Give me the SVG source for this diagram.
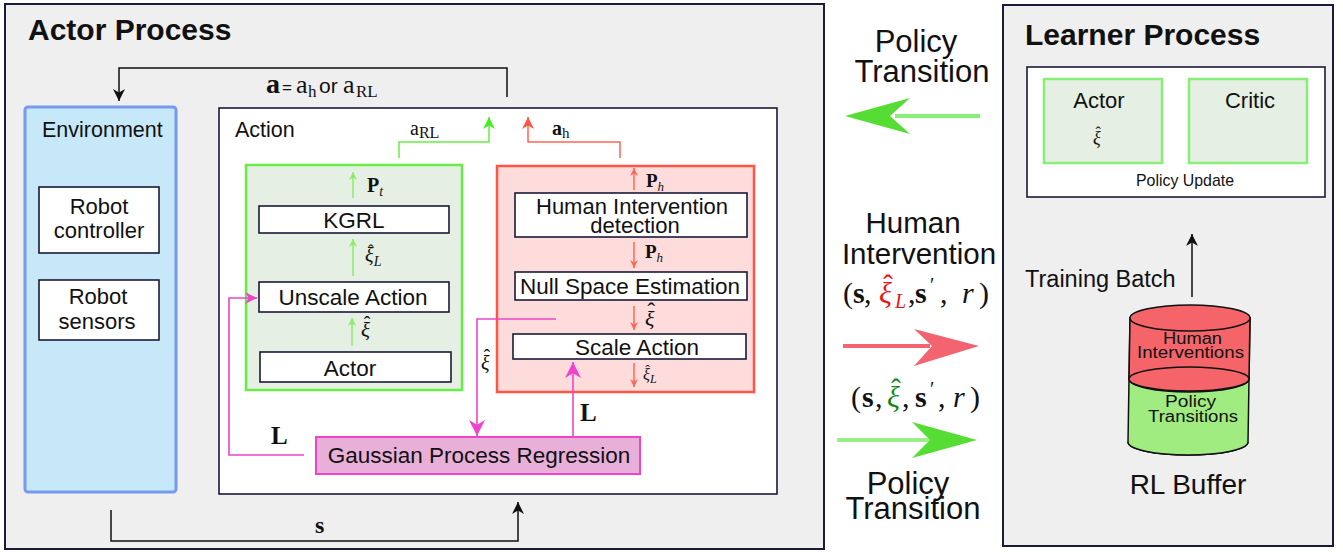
<svg xmlns="http://www.w3.org/2000/svg" width="1343" height="552" viewBox="0 0 1343 552">
<style>
.sans{font-family:"Liberation Sans",Arial,sans-serif;fill:#111}
.serif{font-family:"Liberation Serif","Times New Roman",serif;fill:#111}
.it{font-style:italic}
.bf{font-weight:bold}
.box{fill:#fff;stroke:#1a1a3a;stroke-width:1.6}
.proc{fill:#efefef;stroke:#1a1a3a;stroke-width:2}
.lg{fill:none;stroke:#88ee66;stroke-width:1.5}
.lr{fill:none;stroke:#ff6655;stroke-width:1.5}
.lm{fill:none;stroke:#ee44cc;stroke-width:1.6}
.lk{fill:none;stroke:#111;stroke-width:1.5}
</style>
<defs>
<marker id="ag" viewBox="0 0 10 10" refX="10" refY="5" markerWidth="10" markerHeight="8" markerUnits="userSpaceOnUse" orient="auto"><path d="M0,0 L10,5 L0,10 L3,5 z" fill="#88ee66"/></marker>
<marker id="ar" viewBox="0 0 10 10" refX="10" refY="5" markerWidth="10" markerHeight="8" markerUnits="userSpaceOnUse" orient="auto"><path d="M0,0 L10,5 L0,10 L3,5 z" fill="#ff6655"/></marker>
<marker id="agB" viewBox="0 0 10 10" refX="10" refY="5" markerWidth="18" markerHeight="12" markerUnits="userSpaceOnUse" orient="auto"><path d="M0,0 L10,5 L0,10 L3,5 z" fill="#44ee22"/></marker>
<marker id="arB" viewBox="0 0 10 10" refX="10" refY="5" markerWidth="18" markerHeight="12" markerUnits="userSpaceOnUse" orient="auto"><path d="M0,0 L10,5 L0,10 L3,5 z" fill="#ff5544"/></marker>
<marker id="am" viewBox="0 0 10 10" refX="10" refY="5" markerWidth="30" markerHeight="16" markerUnits="userSpaceOnUse" orient="auto"><path d="M0,0 L10,5 L0,10 L3,5 z" fill="#ee44cc"/></marker>
<marker id="amS" viewBox="0 0 10 10" refX="10" refY="5" markerWidth="18" markerHeight="12" markerUnits="userSpaceOnUse" orient="auto"><path d="M0,0 L10,5 L0,10 L3,5 z" fill="#ee44cc"/></marker>
<marker id="ak" viewBox="0 0 10 10" refX="10" refY="5" markerWidth="20" markerHeight="12" markerUnits="userSpaceOnUse" orient="auto"><path d="M0,0 L10,5 L0,10 L3,5 z" fill="#111"/></marker>
</defs>
<rect width="1343" height="552" fill="#fff"/>

<g id="actor-process">
<rect class="proc" x="5" y="4" width="819" height="545"/>
<text class="sans bf" x="28" y="40" font-size="30">Actor Process</text>
</g>

<g id="learner-process">
<rect class="proc" x="1003" y="5" width="330" height="541"/>
<text class="sans bf" x="1025" y="45" font-size="30">Learner Process</text>
</g>

<g id="environment">
<rect x="25" y="107" width="151" height="385" rx="3" fill="#c6e8f8" stroke="#7799ee" stroke-width="3"/>
<text class="sans" x="42" y="137" font-size="21.5">Environment</text>
</g>
<g id="robot-controller">
<rect class="box" x="39" y="187" width="120" height="66"/>
<text class="sans" x="99" y="214" font-size="22" text-anchor="middle">Robot</text>
<text class="sans" x="99" y="238" font-size="22" text-anchor="middle">controller</text>
</g>
<g id="robot-sensors">
<rect class="box" x="39" y="280" width="120" height="60"/>
<text class="sans" x="98" y="304" font-size="22" text-anchor="middle">Robot</text>
<text class="sans" x="97" y="329" font-size="22" text-anchor="middle">sensors</text>
</g>

<g id="action">
<rect class="box" x="219" y="108" width="558" height="386" stroke-width="2"/>
<text class="sans" x="235" y="137" font-size="21.5">Action</text>
</g>

<g id="rl-branch">
<rect x="246" y="165" width="216" height="225" fill="#e6efe3" stroke="#66ee44" stroke-width="2.5"/>
</g>
<g id="kgrl">
<rect class="box" x="259" y="206" width="190" height="27"/>
<text class="sans" x="354" y="228" font-size="22.5" text-anchor="middle">KGRL</text>
</g>
<g id="unscale-action">
<rect class="box" x="259" y="282" width="190" height="30"/>
<text class="sans" x="353" y="305" font-size="22.5" text-anchor="middle">Unscale Action</text>
</g>
<g id="actor-net">
<rect class="box" x="260" y="352" width="191" height="30"/>
<text class="sans" x="350" y="376" font-size="22.5" text-anchor="middle">Actor</text>
</g>

<g id="human-branch">
<rect x="497" y="166" width="257" height="226" fill="#ffdcdc" stroke="#ff5544" stroke-width="2.5"/>
</g>
<g id="human-detection">
<rect class="box" x="515" y="193" width="232" height="44"/>
<text class="sans" x="632" y="214" font-size="22" text-anchor="middle">Human Intervention</text>
<text class="sans" x="635" y="233" font-size="22" text-anchor="middle">detection</text>
</g>
<g id="null-space">
<rect class="box" x="515" y="272" width="232" height="28"/>
<text class="sans" x="630" y="294" font-size="22.5" text-anchor="middle">Null Space Estimation</text>
</g>
<g id="scale-action">
<rect class="box" x="513" y="334" width="233" height="25"/>
<text class="sans" x="637" y="355" font-size="22.5" text-anchor="middle">Scale Action</text>
</g>

<g id="gpr">
<rect x="316" y="437" width="324" height="37" fill="#e8b0d8" stroke="#ee44cc" stroke-width="2"/>
<text class="sans" x="479" y="463" font-size="22.5" text-anchor="middle">Gaussian Process Regression</text>
</g>

<g id="learner-update">
<rect class="box" x="1027" y="67" width="298" height="130" stroke-width="2"/>
<text class="sans" x="1185" y="186" font-size="17" text-anchor="middle" textLength="98" lengthAdjust="spacingAndGlyphs">Policy Update</text>
</g>
<g id="learner-actor">
<rect x="1044" y="79" width="118" height="84" fill="#e6efe3" stroke="#88ee77" stroke-width="2.5"/>
<text class="sans" x="1099" y="108" font-size="22" text-anchor="middle">Actor</text>
<text class="serif" x="1093" y="144" font-size="18"><tspan class="it">ξ</tspan><tspan dx="-5.2" dy="-6" font-size="16">ˆ</tspan></text>
</g>
<g id="learner-critic">
<rect x="1189" y="79" width="118" height="84" fill="#e6efe3" stroke="#88ee77" stroke-width="2.5"/>
<text class="sans" x="1250" y="108" font-size="22" text-anchor="middle">Critic</text>
</g>

<g id="rl-buffer">
<path d="M1130,318 L1128,442 A60,13 0 0 0 1248,442 L1250,318 Z" fill="#a0ec80" stroke="#111" stroke-width="1.5"/>
<path d="M1130,318 L1129,379 A60,13 0 0 0 1249,379 L1250,318 Z" fill="#f46468" stroke="#111" stroke-width="1.5"/>
<ellipse cx="1189" cy="379" rx="60" ry="12" fill="#f46468" stroke="#111" stroke-width="1.5"/>
<ellipse cx="1190" cy="318" rx="60" ry="13" fill="#f46468" stroke="#111" stroke-width="1.5"/>
<path d="M1128,442 A60,13 0 0 0 1248,442" fill="#a0ec80" stroke="#111" stroke-width="1.5"/>
<text class="sans" x="1163" y="344" font-size="16" textLength="59" lengthAdjust="spacingAndGlyphs">Human</text>
<text class="sans" x="1137" y="358" font-size="16" textLength="107" lengthAdjust="spacingAndGlyphs">Interventions</text>
<text class="sans" x="1165" y="407" font-size="16" textLength="51" lengthAdjust="spacingAndGlyphs">Policy</text>
<text class="sans" x="1148" y="422" font-size="16" textLength="90" lengthAdjust="spacingAndGlyphs">Transitions</text>
<text class="sans" x="1188" y="494" font-size="28" text-anchor="middle">RL Buffer</text>
</g>

<g id="connectors">
<path class="lk" d="M507,97 V68 H119 V101" marker-end="url(#ak)"/>
<path class="lk" d="M111,510 V541 H518 V502" marker-end="url(#ak)"/>
<path class="lg" d="M353,198 V172" marker-end="url(#ag)"/>
<path class="lg" d="M353,276 V239" marker-end="url(#ag)"/>
<path class="lg" d="M352,346 V318" marker-end="url(#ag)"/>
<path d="M399,158 V142 H489 V117" fill="none" stroke="#66ee44" stroke-width="1.5" marker-end="url(#agB)"/>
<path class="lr" d="M634,190 V168" marker-end="url(#ar)"/>
<path class="lr" d="M634,242 V268" marker-end="url(#ar)"/>
<path class="lr" d="M634,306 V330" marker-end="url(#ar)"/>
<path class="lr" d="M634,363 V387" marker-end="url(#ar)"/>
<path class="lr" d="M620,158 V142 H528 V117" marker-end="url(#arB)"/>
<path class="lm" d="M556,319 H477 V436" marker-end="url(#am)"/>
<path class="lm" d="M304,455 H229 V298 H257" marker-end="url(#amS)"/>
<path class="lm" d="M573,437 V362" marker-end="url(#am)"/>
<path class="lk" d="M1192,297 V234" marker-end="url(#ak)"/>
</g>

<g id="transfer-arrows">
<path d="M980,116 H895" stroke="#88ee77" stroke-width="4" fill="none"/>
<polygon points="845,116 910,98 890,116 910,134" fill="#55dd33"/>
<path d="M843,346 H930" stroke="#f46470" stroke-width="4" fill="none"/>
<polygon points="979,346 914,329 932,346 914,366" fill="#f46470"/>
<path d="M837,440 H930" stroke="#99ee88" stroke-width="4" fill="none"/>
<polygon points="977,440 912,422 930,440 912,458" fill="#55dd33"/>
</g>

<g id="labels">
<text class="serif" y="93" font-size="26"><tspan x="266" class="bf" font-size="28">a</tspan><tspan x="282" font-family="Liberation Sans" font-size="17">=</tspan><tspan x="296">a</tspan><tspan x="308" font-size="17" dy="4">h</tspan><tspan x="319" dy="-4" font-family="Liberation Sans" font-size="21">or</tspan><tspan x="343">a</tspan><tspan x="356" font-size="17" dy="4">RL</tspan></text>
<text class="serif bf" x="315" y="533" font-size="24">s</text>
<text class="serif" x="410" y="135" font-size="20">a<tspan font-size="16" dy="3">RL</tspan></text>
<text class="serif bf" x="552" y="135" font-size="20">a<tspan font-size="15" dy="3" font-weight="normal">h</tspan></text>
<text class="serif bf" x="367" y="192" font-size="20">P<tspan font-size="14" dy="4" font-weight="normal" font-style="italic">t</tspan></text>
<text class="serif" x="365" y="262" font-size="20"><tspan class="it">ξ</tspan><tspan dx="-5.6" dy="-6" font-size="17">ˆ</tspan><tspan class="it" dy="10" font-size="14">L</tspan></text>
<text class="serif" x="361" y="337" font-size="21"><tspan class="it">ξ</tspan><tspan dx="-6.3" dy="-6" font-size="20">ˆ</tspan></text>
<text class="serif bf" x="646" y="187" font-size="19">P<tspan font-size="13" dy="4" font-weight="normal" font-style="italic">h</tspan></text>
<text class="serif bf" x="645" y="258" font-size="19">P<tspan font-size="13" dy="4" font-weight="normal" font-style="italic">h</tspan></text>
<text class="serif" x="645" y="326" font-size="22"><tspan class="it">ξ</tspan><tspan dx="-7.1" dy="-7" font-size="24">ˆ</tspan></text>
<text class="serif" x="643" y="380" font-size="16"><tspan class="it">ξ</tspan><tspan dx="-4.6" dy="-5" font-size="14">ˆ</tspan><tspan class="it" dy="8" font-size="12">L</tspan></text>
<text class="serif" x="481" y="370" font-size="20"><tspan class="it">ξ</tspan><tspan dx="-6.1" dy="-6">ˆ</tspan></text>
<text class="serif bf" x="271" y="444" font-size="25">L</text>
<text class="serif bf" x="580" y="421" font-size="25">L</text>
<text class="sans" x="916" y="52" font-size="31" text-anchor="middle">Policy</text>
<text class="sans" x="922" y="82" font-size="31" text-anchor="middle">Transition</text>
<text class="sans" x="913" y="233" font-size="29.5" text-anchor="middle">Human</text>
<text class="sans" x="919" y="264" font-size="29.5" text-anchor="middle">Intervention</text>
<text class="serif" y="303" font-size="30"><tspan x="843">(</tspan><tspan x="853" class="bf">s</tspan><tspan x="864">,</tspan><tspan x="879" class="it" fill="#ee1111">ξ</tspan><tspan x="883" dy="-8" fill="#ee1111">ˆ</tspan><tspan x="895" dy="13" class="it" font-size="20" fill="#ee1111">L</tspan><tspan x="908" dy="-5">,</tspan><tspan x="915" class="bf">s</tspan><tspan x="930" dy="-11" font-size="20">′</tspan><tspan x="940" dy="11">,</tspan><tspan x="962" class="it">r</tspan><tspan x="979">)</tspan></text>
<text class="serif" y="407" font-size="30"><tspan x="851">(</tspan><tspan x="862" class="bf">s</tspan><tspan x="875">,</tspan><tspan x="887" class="it" fill="#118811">ξ</tspan><tspan x="891" dy="-8" fill="#118811">ˆ</tspan><tspan x="902" dy="8">,</tspan><tspan x="915" class="bf">s</tspan><tspan x="930" dy="-11" font-size="20">′</tspan><tspan x="938" dy="11">,</tspan><tspan x="953" class="it">r</tspan><tspan x="970">)</tspan></text>
<text class="sans" x="908" y="494" font-size="31" text-anchor="middle">Policy</text>
<text class="sans" x="913" y="519" font-size="31" text-anchor="middle">Transition</text>
<text class="sans" x="1025" y="287" font-size="23.5">Training Batch</text>
</g>
</svg>
